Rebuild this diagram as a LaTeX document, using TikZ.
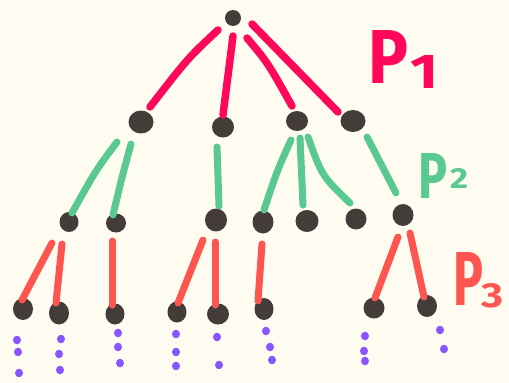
\documentclass[tikz,border=0pt]{standalone}
\usepackage{fontspec}
\setmainfont{Fira Sans}
\usetikzlibrary{calc,shapes.geometric}
\definecolor{bgc}{RGB}{254,252,240}
\definecolor{dotc}{RGB}{67,60,57}
\definecolor{pone}{RGB}{255,8,90}
\definecolor{ptwo}{RGB}{90,200,145}
\definecolor{pthree}{RGB}{255,85,80}
\definecolor{purp}{RGB}{136,85,255}
\tikzset{
  dot/.style={ellipse,fill=dotc,inner sep=0pt,minimum width=#1},
  dot/.default=20pt,
  edgeA/.style={draw=pone,line width=7.5pt,line cap=round},
  edgeB/.style={draw=ptwo,line width=7pt,line cap=round},
  edgeC/.style={draw=pthree,line width=7pt,line cap=round},
  pdot/.style={fill=purp},
  lbl/.style={inner sep=0pt,anchor=north west}
}
\begin{document}
\begin{tikzpicture}[x=1pt,y=-1pt]
\fill[bgc] (0,0) rectangle (509,383);
\useasboundingbox (0,0) rectangle (509,383);
% root
\node[dot,minimum width=16pt,minimum height=16pt] (r) at (233,18) {};
% level 1
\node[dot,minimum width=25pt,minimum height=23pt] (n1) at (141,122) {};
\node[dot,minimum width=22pt,minimum height=21pt] (n2) at (223,127) {};
\node[dot,minimum width=22pt,minimum height=20pt] (n3) at (297,121) {};
\node[dot,minimum width=25pt,minimum height=22pt] (n4) at (353,121) {};
% level 2
\node[dot,minimum width=19pt,minimum height=20pt] (m1) at (69,222) {};
\node[dot,minimum width=20pt,minimum height=19pt] (m2) at (116,223) {};
\node[dot,minimum width=22pt,minimum height=23pt] (m3) at (216,220) {};
\node[dot,minimum width=21pt,minimum height=23pt] (m4) at (263,222) {};
\node[dot,minimum width=23pt,minimum height=22pt] (m5) at (307,221) {};
\node[dot,minimum width=21pt,minimum height=21pt] (m6) at (356,219) {};
\node[dot,minimum width=21pt,minimum height=22pt] (m7) at (403,215) {};
% level 3
\node[dot,minimum width=20pt,minimum height=22pt] (l1) at (23,309) {};
\node[dot,minimum width=20pt,minimum height=23pt] (l2) at (59,313) {};
\node[dot,minimum width=19pt,minimum height=21pt] (l3) at (115,314) {};
\node[dot,minimum width=19pt,minimum height=21pt] (l4) at (177,312) {};
\node[dot,minimum width=22pt,minimum height=21pt] (l5) at (218,314) {};
\node[dot,minimum width=19pt,minimum height=22pt] (l6) at (264,309) {};
\node[dot,minimum width=21pt,minimum height=21pt] (l7) at (374,308) {};
\node[dot,minimum width=20pt,minimum height=22pt] (l8) at (427,306) {};
% P1 edges
\draw[edgeA] ($(r)+(-15,12)$) .. controls ($(r)+(-45,40)$) .. ($(n1)+(9,-15)$);
\draw[edgeA] ($(r)+(0,18)$) -- ($(n2)+(0,-12)$);
\draw[edgeA] ($(r)+(14,20)$) .. controls ($(r)+(35,45)$) .. ($(n3)+(-5,-15)$);
\draw[edgeA] ($(r)+(19,6)$) -- ($(n4)+(-15,-9)$);
% P2 edges
\draw[edgeB] ($(n1)+(-24,20)$) .. controls ($(n1)+(-45,48)$) .. ($(m1)+(3,-9)$);
\draw[edgeB] ($(n1)+(-10,22)$) .. controls ($(n1)+(-19,55)$) .. ($(m2)+(-3,-8)$);
\draw[edgeB] ($(n2)+(-6,20)$) -- ($(m3)+(3,-14)$);
\draw[edgeB] ($(n3)+(-6,19)$) .. controls ($(n3)+(-20,50)$) .. ($(m4)+(1,-12)$);
\draw[edgeB] ($(n3)+(3,17)$) -- ($(m5)+(-4,-16)$);
\draw[edgeB] ($(n3)+(11,16)$) .. controls ($(n3)+(25,55)$) .. ($(m6)+(-6,-16)$);
\draw[edgeB] ($(n4)+(14,16)$) -- ($(m7)+(-7,-22)$);
% P3 edges
\draw[edgeC] ($(m1)+(-17,21)$) -- ($(l1)+(-1,-9)$);
\draw[edgeC] ($(m1)+(-7,22)$) -- ($(l2)+(-3,-10)$);
\draw[edgeC] ($(m2)+(-4,18)$) -- ($(l3)+(-3,-9)$);
\draw[edgeC] ($(m3)+(-13,20)$) -- ($(l4)+(1,-9)$);
\draw[edgeC] ($(m3)+(-1,22)$) -- ($(l5)+(-3,-9)$);
\draw[edgeC] ($(m4)+(-1,22)$) -- ($(l6)+(-6,-8)$);
\draw[edgeC] ($(m7)+(-5,22)$) -- ($(l7)+(1,-10)$);
\draw[edgeC] ($(m7)+(7,18)$) -- ($(l8)+(-3,-9)$);
% purple dots
\foreach \x/\y in {17/340,18/352,19/373, 61/339,59/354,60/370,
  118/333,118/347,120/363, 176/334,176/352,176/366, 217/337,219/365,
  266/331,270/347,272/360, 365/336,364/351,365/361, 440/330,444/349}
  \fill[pdot] (\x,\y) ellipse (4pt and 4.3pt);
% labels
\node[lbl,text=pone] (p1a) at (368,30) {\resizebox{40pt}{53pt}{\bfseries P}};
\node[lbl,text=pone] (p1b) at (410,55) {\resizebox{28pt}{33pt}{\bfseries 1}};
\node[lbl,text=ptwo] (p2a) at (418,153) {\resizebox{29pt}{45pt}{\bfseries P}};
\node[lbl,text=ptwo] (p2b) at (450,168) {\resizebox{18pt}{20pt}{\bfseries 2}};
\node[lbl,text=pthree] (p3a) at (453,252) {\resizebox{30pt}{53pt}{\bfseries P}};
\node[lbl,text=pthree] (p3b) at (481,283) {\resizebox{22pt}{24pt}{\bfseries 3}};
\end{tikzpicture}
\end{document}
